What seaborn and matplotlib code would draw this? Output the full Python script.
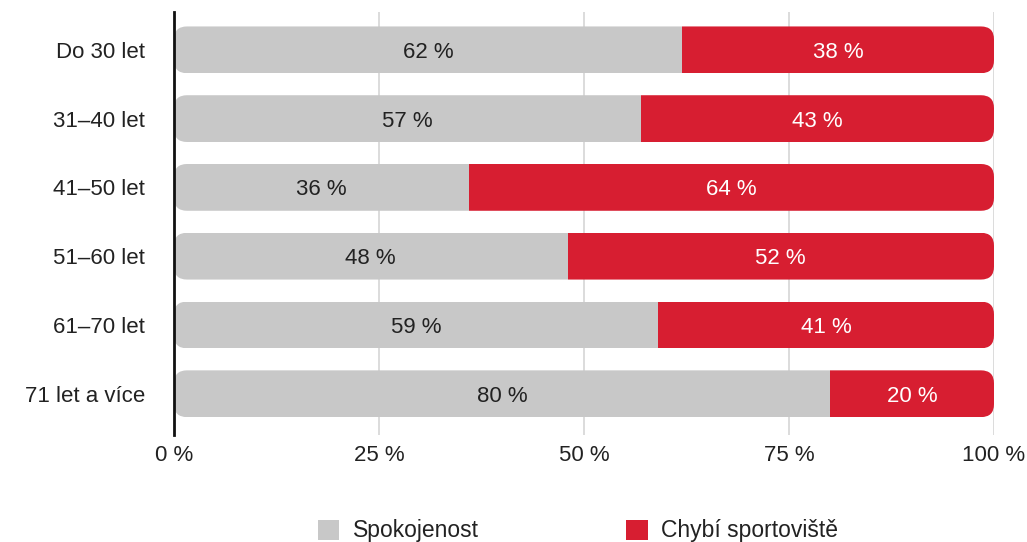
import matplotlib
matplotlib.use("Agg")
import matplotlib.pyplot as plt
from matplotlib.patches import FancyBboxPatch, Patch
import seaborn as sns
import pandas as pd

# Age groups and shares (%)
groups = ["Do 30 let", "31–40 let", "41–50 let", "51–60 let", "61–70 let", "71 let a více"]
spokojenost = [62, 57, 36, 48, 59, 80]
chybi = [38, 43, 64, 52, 41, 20]
x_ticks = [0, 25, 50, 75, 100]
x_tick_labels = ["0 %", "25 %", "50 %", "75 %", "100 %"]
series_names = ["Spokojenost", "Chybí sportoviště"]

GRAY = "#C8C8C8"
RED = "#D71E31"
TEXT = "#222222"
FS = 16

df = pd.DataFrame({"group": groups, "spokojenost": spokojenost, "chybi": chybi})

sns.set_theme(style="white")
plt.rcParams["font.family"] = ["Liberation Sans", "DejaVu Sans"]

W, H = 1027, 542
fig = plt.figure(figsize=(W / 100, H / 100), dpi=100)
ax_left, ax_right, ax_top, ax_bot = 174, 994, 12, 435
ax = fig.add_axes([ax_left / W, 1 - ax_bot / H, (ax_right - ax_left) / W, (ax_bot - ax_top) / H])

bar_h = 0.68
sns.barplot(data=df, y="group", x="spokojenost", color=GRAY, orient="h", width=bar_h,
            saturation=1, ax=ax, zorder=2, linewidth=0)
gray_bars = list(ax.patches)
sns.barplot(data=df, y="group", x="chybi", color=RED, orient="h", width=bar_h,
            saturation=1, ax=ax, zorder=2, linewidth=0)
red_bars = [p for p in ax.patches if p not in gray_bars]

# Stack the second segment after the first one
for p, g in zip(red_bars, gray_bars):
    p.set_x(g.get_x() + g.get_width())

ax.set_xlim(0, 100)
ax.set_ylim(len(groups) - 1 + 0.6, -0.55)

# Rounded outer ends: clip every segment with a rounded box spanning the whole row
px_per_x = (ax_right - ax_left) / 100
px_per_y = (ax_bot - ax_top) / (len(groups) - 1 + 0.6 + 0.55)
radius_px = 13
r_x = radius_px / px_per_x
aspect = px_per_x / px_per_y
for p in ax.patches:
    clip = FancyBboxPatch((0, p.get_y()), 100, p.get_height(),
                          boxstyle=f"round,pad=0,rounding_size={r_x}",
                          mutation_aspect=aspect, transform=ax.transData)
    p.set_clip_path(clip)

# Value labels
for i, (a, b) in enumerate(zip(spokojenost, chybi)):
    ax.text(a / 2, i, f"{a} %", ha="center", va="center_baseline", fontsize=FS, color=TEXT, zorder=5)
    ax.text(a + b / 2, i, f"{b} %", ha="center", va="center_baseline", fontsize=FS, color="white", zorder=5)

# Axes styling
ax.set_xticks(x_ticks)
ax.set_xticklabels(x_tick_labels, fontsize=FS, color=TEXT)
ax.tick_params(axis="y", labelsize=FS, labelcolor=TEXT, length=0, pad=21)
ax.tick_params(axis="x", length=0, pad=7)
ax.set_xlabel("")
ax.set_ylabel("")
for x in x_ticks[1:]:
    ax.axvline(x, color="#D6D6D6", lw=1.2, zorder=0)
for s in ["top", "right", "bottom"]:
    ax.spines[s].set_visible(False)
ax.spines["left"].set_color("#111111")
ax.spines["left"].set_linewidth(2)
ax.spines["left"].set_zorder(6)

handles = [Patch(facecolor=GRAY, edgecolor="none"), Patch(facecolor=RED, edgecolor="none")]
fig.legend(handles, series_names, loc="center", bbox_to_anchor=(578 / W, 1 - 531 / H),
           ncol=2, frameon=False, fontsize=16.5, handlelength=0.95, handleheight=0.95,
           handletextpad=0.6, columnspacing=6.4, labelcolor=TEXT, borderpad=0)

fig.savefig("out.png", dpi=100)
